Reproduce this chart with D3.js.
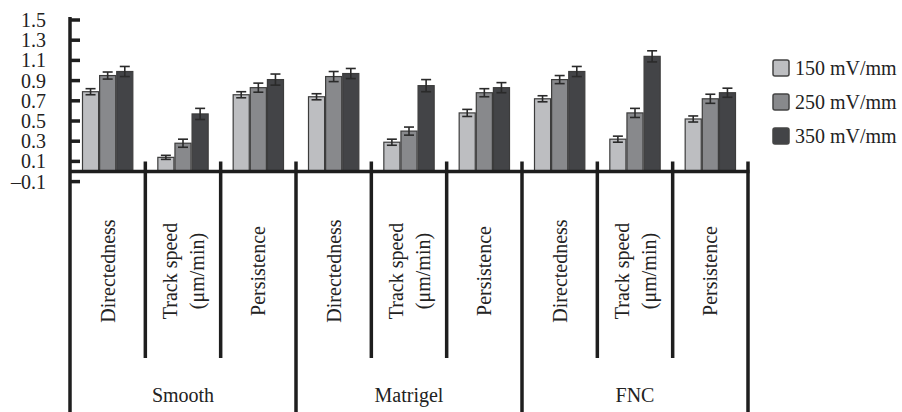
<!DOCTYPE html>
<html>
<head>
<meta charset="utf-8">
<script src="https://cdn.jsdelivr.net/npm/d3@7/dist/d3.min.js"></script>
<style>
  html, body { margin: 0; padding: 0; background: #fff; }
  svg { display: block; }
</style>
</head>
<body>
<div id="chart"></div>
<script>
// substrates and measurements
const groups = ["Smooth", "Matrigel", "FNC"]
const measures = [["Directedness"], ["Track speed", "(μm/min)"], ["Persistence"]]
const series = ["150 mV/mm", "250 mV/mm", "350 mV/mm"]

// values per (group x measure), in order Smooth D/T/P, Matrigel D/T/P, FNC D/T/P
const values150 = [0.79, 0.14, 0.76, 0.74, 0.29, 0.58, 0.72, 0.32, 0.52]
const values250 = [0.95, 0.28, 0.83, 0.94, 0.40, 0.78, 0.91, 0.58, 0.72]
const values350 = [0.99, 0.57, 0.91, 0.97, 0.85, 0.83, 0.99, 1.14, 0.78]

const err150 = [0.03, 0.02, 0.03, 0.03, 0.03, 0.035, 0.03, 0.03, 0.03]
const err250 = [0.035, 0.04, 0.045, 0.05, 0.04, 0.04, 0.04, 0.045, 0.045]
const err350 = [0.05, 0.055, 0.055, 0.05, 0.06, 0.05, 0.05, 0.055, 0.045]

const yTicks = [1.5, 1.3, 1.1, 0.9, 0.7, 0.5, 0.3, 0.1, -0.1]

const W = 902, H = 412
const FONT = "'Liberation Serif', 'Times New Roman', serif"
const AXIS = "#1e1e1e"
const FILLS = ["#bdbec1", "#88898c", "#434447"]

const svg = d3.select("#chart").append("svg")
  .attr("width", W)
  .attr("height", H)

// categories: one per group x measure
const cats = []
groups.forEach((g, gi) => {
  measures.forEach((m, mi) => {
    cats.push({ key: g + "|" + mi, group: g, gi, mi, label: m })
  })
})

const x = d3.scaleBand()
  .domain(cats.map(d => d.key))
  .range([70, 748])
  .padding(0)

const bw = x.bandwidth()
const xs = d3.scaleBand()
  .domain(series)
  .range([12.5, bw - 12.5])
  .paddingInner(0.06)

const y = d3.scaleLinear()
  .domain([0, 1.5])
  .range([171.5, 20])

const allVals = [values150, values250, values350]
const allErr = [err150, err250, err350]

// bars
const bars = []
cats.forEach((c, ci) => {
  series.forEach((s, si) => {
    bars.push({ cat: c.key, s, si, v: allVals[si][ci], e: allErr[si][ci] })
  })
})

const barG = svg.append("g")
barG.selectAll("rect")
  .data(bars)
  .join("rect")
  .attr("x", d => x(d.cat) + xs(d.s))
  .attr("y", d => y(d.v))
  .attr("width", xs.bandwidth())
  .attr("height", d => y(0) - y(d.v))
  .attr("fill", d => FILLS[d.si])
  .attr("stroke", "#3c3c3c")
  .attr("stroke-width", 1.2)

// error bars
const errG = svg.append("g")
  .attr("stroke", "#2a2a2a")
  .attr("stroke-width", 1.6)
bars.forEach(d => {
  const cx = x(d.cat) + xs(d.s) + xs.bandwidth() / 2
  errG.append("line")
    .attr("x1", cx).attr("x2", cx)
    .attr("y1", y(d.v + d.e)).attr("y2", y(d.v - d.e))
  ;[d.v + d.e, d.v - d.e].forEach(v => {
    errG.append("line")
      .attr("x1", cx - 5).attr("x2", cx + 5)
      .attr("y1", y(v)).attr("y2", y(v))
  })
})

// y axis
const axisG = svg.append("g")
axisG.append("line")
  .attr("x1", 70).attr("x2", 70)
  .attr("y1", y(1.5) - 3).attr("y2", H)
  .attr("stroke", AXIS).attr("stroke-width", 3.5)

axisG.selectAll(".ytick")
  .data(yTicks)
  .join("line")
  .attr("x1", 70).attr("x2", 80)
  .attr("y1", d => y(d)).attr("y2", d => y(d))
  .attr("stroke", AXIS).attr("stroke-width", 3.5)

axisG.selectAll(".ylab")
  .data(yTicks)
  .join("text")
  .attr("x", 46)
  .attr("y", d => y(d) + 7)
  .attr("text-anchor", "end")
  .attr("font-family", FONT)
  .attr("font-size", "20px")
  .attr("fill", "#222")
  .text(d => d < 0 ? "–" + Math.abs(d).toFixed(1) : d.toFixed(1))

// x axis line
axisG.append("line")
  .attr("x1", 70).attr("x2", 749.5)
  .attr("y1", y(0)).attr("y2", y(0))
  .attr("stroke", AXIS).attr("stroke-width", 3.5)

// separators between categories
const seps = d3.range(cats.length + 1)
axisG.selectAll(".sep")
  .data(seps.slice(1))
  .join("line")
  .attr("x1", i => 70 + bw * i).attr("x2", i => 70 + bw * i)
  .attr("y1", y(0) - 10)
  .attr("y2", i => i % 3 === 0 ? H : 358)
  .attr("stroke", AXIS).attr("stroke-width", 3.5)

// measure labels (rotated)
const labG = svg.append("g")
  .attr("font-family", FONT)
  .attr("font-size", "20px")
  .attr("fill", "#222")
cats.forEach(c => {
  const cx = x(c.key) + bw / 2
  const n = c.label.length
  c.label.forEach((line, li) => {
    const off = (li - (n - 1) / 2) * 27 + 7
    labG.append("text")
      .attr("transform", `translate(${cx + off},271) rotate(-90)`)
      .attr("text-anchor", "middle")
      .text(line)
  })
})

// group labels
groups.forEach((g, gi) => {
  const gx = 70 + bw * (gi * 3 + 1.5)
  labG.append("text")
    .attr("x", gx)
    .attr("y", 402)
    .attr("text-anchor", "middle")
    .text(g)
})

// legend
const legend = svg.append("g")
  .attr("transform", "translate(773, 68)")
series.forEach((s, i) => {
  const row = legend.append("g").attr("transform", `translate(0, ${i * 34})`)
  row.append("rect")
    .attr("x", 0).attr("y", -8)
    .attr("width", 16).attr("height", 16)
    .attr("rx", 2)
    .attr("fill", FILLS[i])
    .attr("stroke", "#444")
    .attr("stroke-width", 1.5)
  row.append("text")
    .attr("x", 22).attr("y", 7)
    .attr("font-family", FONT)
    .attr("font-size", "20px")
    .attr("fill", "#222")
    .text(s)
})
</script>
</body>
</html>
